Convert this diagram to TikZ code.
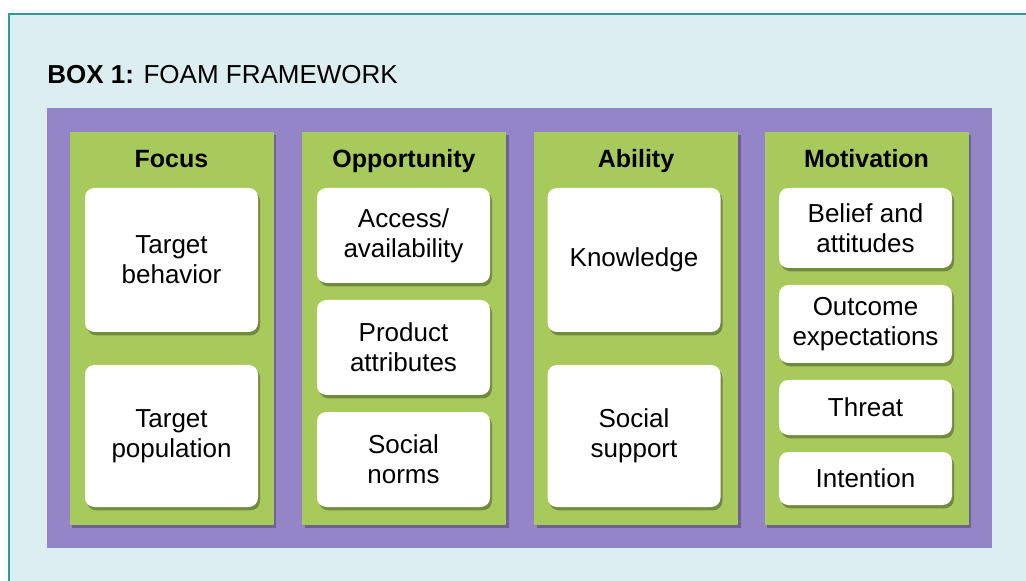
\documentclass[tikz,border=0pt]{standalone}
\usepackage{fontspec}
\setmainfont{Liberation Sans}
\usepackage{tikz}
\usetikzlibrary{shadows}

\definecolor{boxbg}{HTML}{DDEEF1}
\definecolor{boxline}{HTML}{2F9A98}
\definecolor{frame}{HTML}{9484C8}
\definecolor{leaf}{HTML}{A8CA5C}

\tikzset{
  column/.style={draw=none, fill=leaf, minimum width=153pt, minimum height=294.75pt,
    drop shadow={shadow xshift=2pt, shadow yshift=-2.5pt, fill=black, opacity=0.25}},
  head/.style={anchor=base, inner sep=0pt, font=\fontsize{18.75}{22}\selectfont\bfseries},
  item/.style={fill=white, rounded corners=7pt, minimum width=129.75pt, align=center,
    font=\fontsize{19.5}{22.5}\selectfont, inner sep=0pt,
    drop shadow={shadow xshift=1.5pt, shadow yshift=-2.5pt, fill=black!70!leaf, opacity=0.45}}
}

\begin{document}
\begin{tikzpicture}[x=0.75pt,y=-0.75pt]
 \useasboundingbox (0,0) rectangle (1026,581);
 % outer box and frame
 \fill[white] (0,0) rectangle (1026,581);
 \draw[boxline, fill=boxbg, line width=1.3pt] (9,14) rectangle (1045,600);
 \node[anchor=base west, font=\fontsize{19.5}{22.5}\selectfont, inner sep=0pt] (title) at (47,84)
   {\textbf{BOX 1:} FOAM FRAMEWORK};
 \node[fill=frame, minimum width=708.75pt, minimum height=330pt, inner sep=0pt] (frm) at (519.5,328) {};

 % the four columns
 \node[column] (focus) at (171.5,328.5) {};
 \node[column] (opp) at (404,328.5) {};
 \node[column] (abil) at (636,328.5) {};
 \node[column] (motiv) at (866.5,328.5) {};

 \node[head] (focus-h) at (171.5,168) {Focus};
 \node[head] (opp-h) at (404,168) {Opportunity};
 \node[head] (abil-h) at (636,168) {Ability};
 \node[head] (motiv-h) at (866.5,168) {Motivation};

 % Focus
 \node[item, minimum height=108pt] (tbeh) at (171.5,260) {Target\\behavior};
 \node[item, minimum height=106.5pt] (tpop) at (171.5,436) {Target\\population};
 % Opportunity
 \node[item, minimum height=71.25pt] (access) at (403.5,235.5) {Access/\\availability};
 \node[item, minimum height=71.25pt] (prod) at (403.5,347.5) {Product\\attributes};
 \node[item, minimum height=71.25pt] (norms) at (403.5,459.5) {Social\\norms};
 % Ability
 \node[item, minimum height=108pt] (know) at (634,260) {Knowledge};
 \node[item, minimum height=106.5pt] (supp) at (634,436) {Social\\support};
 % Motivation
 \node[item, minimum height=60pt] (belief) at (865.5,228) {Belief and\\attitudes};
 \node[item, minimum height=58.5pt] (outc) at (865.5,324) {Outcome\\expectations};
 \node[item, minimum height=41.25pt] (threat) at (865.5,407.5) {Threat};
 \node[item, minimum height=39.75pt] (intent) at (865.5,478.5) {Intention};
\end{tikzpicture}
\end{document}
